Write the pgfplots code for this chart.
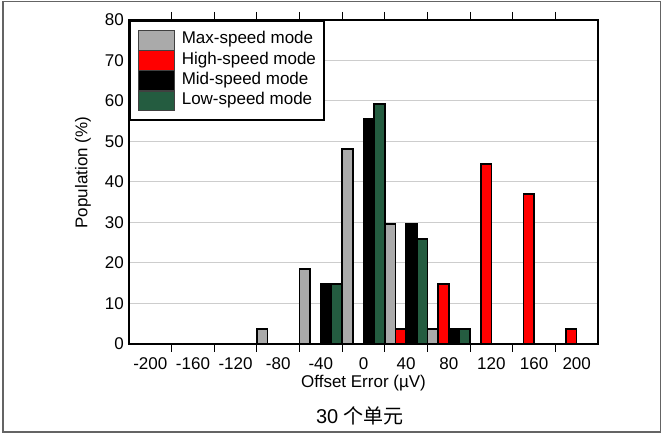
\documentclass[border=0pt]{standalone}
\usepackage{pgfplots}
\pgfplotsset{compat=1.18}
\usepackage{fontspec}
\setmainfont{Liberation Sans}
\newfontfamily\cjk{Noto Sans CJK SC}
\definecolor{maxgray}{RGB}{170,170,170}
\definecolor{lowgreen}{RGB}{36,92,64}
\definecolor{gridgray}{RGB}{205,205,205}
\definecolor{framegray}{RGB}{100,100,100}
\pgfplotsset{
  myleg/.style={legend image code/.code={%
    \draw[##1, line width=0.8pt, draw=black!75] (0pt,-9.65pt) rectangle (36pt,9.65pt);}},
}
\begin{document}
\begin{tikzpicture}[x=1pt,y=1pt]
\useasboundingbox (0,0) rectangle (662,433);
\draw[framegray, line width=1.5pt] (3,0.75) rectangle (660.5,431.5);
\begin{axis}[
  at={(129pt,89pt)}, anchor=south west,
  width=469pt, height=324pt, scale only axis,
  xmin=-0.5, xmax=10.5, ymin=0, ymax=80,
  ytick={0,10,...,80},
  xtick={0,...,10},
  xticklabels={-200,-160,-120,-80,-40,0,40,80,120,160,200},
  minor xtick={0.5,1.5,...,9.5},
  xtick pos=both, xticklabel pos=lower,
  ytick pos=left,
  major tick length=0pt, minor tick length=8pt, tick align=inside,
  every tick/.style={black, line width=1pt},
  ymajorgrids, grid style={gridgray, line width=1pt},
  axis line style={line width=2pt},
  tick label style={font=\fontsize{17}{20}\selectfont},
  /pgf/number format/assume math mode=true,
  xticklabel style={anchor=base},
  xticklabel shift=25.4pt,
  yticklabel shift=1.6pt,
  xlabel={Offset Error (µV)}, ylabel={Population (\%)},
  label style={font=\fontsize{17}{20}\selectfont},
  xlabel style={at={(axis description cs:0.5,0)}, anchor=base, yshift=-43.8pt},
  ylabel style={at={(axis description cs:-0.0981,0.529)}, anchor=center},
  ybar, bar width=0.25,
  legend cell align=left,
  legend style={at={(axis description cs:0,1)}, anchor=north west,
    draw=black, line width=2pt, fill=white,
    font=\fontsize{17}{20}\selectfont,
    inner xsep=7.7pt, inner ysep=9.3pt,
    row sep=0pt, column sep=7.3pt,
    nodes={inner sep=0pt, text height=13.3pt, text depth=6pt}},
]
\addplot[myleg, draw=black, line width=1.5pt, fill=maxgray, bar shift=-0.375] coordinates {
 (0,0) (1,0) (2,0) (3,3.7) (4,18.5) (5,48.1) (6,29.6) (7,3.7) (8,0) (9,0) (10,0)};
\addlegendentry{Max-speed mode}
\addplot[myleg, draw=black, line width=1.5pt, fill=red, bar shift=-0.125] coordinates {
 (0,0) (1,0) (2,0) (3,0) (4,0) (5,0) (6,3.7) (7,14.8) (8,44.4) (9,37.0) (10,3.7)};
\addlegendentry{High-speed mode}
\addplot[myleg, draw=black, line width=1.5pt, fill=black, bar shift=0.125] coordinates {
 (0,0) (1,0) (2,0) (3,0) (4,14.8) (5,55.6) (6,29.6) (7,3.7) (8,0) (9,0) (10,0)};
\addlegendentry{Mid-speed mode}
\addplot[myleg, draw=black, line width=1.5pt, fill=lowgreen, bar shift=0.375] coordinates {
 (0,0) (1,0) (2,0) (3,0) (4,14.8) (5,59.3) (6,25.9) (7,3.7) (8,0) (9,0) (10,0)};
\addlegendentry{Low-speed mode}
\end{axis}
\node[font=\fontsize{20}{24}\selectfont, anchor=base] at (360,9) {30 {\cjk 个单元}};
\end{tikzpicture}
\end{document}
